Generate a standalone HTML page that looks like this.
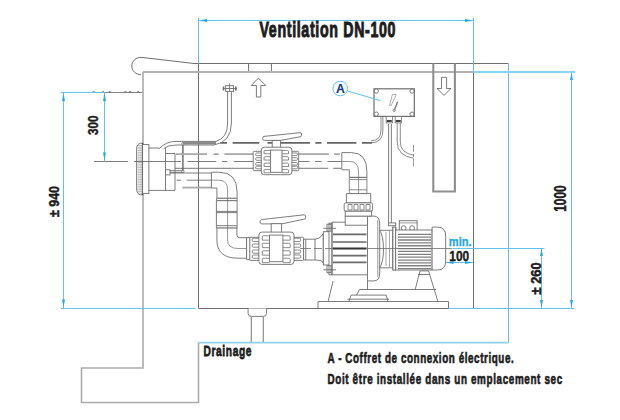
<!DOCTYPE html>
<html><head><meta charset="utf-8">
<style>
html,body{margin:0;padding:0;background:#fff;width:620px;height:420px;overflow:hidden}
svg{display:block}
text{font-family:"Liberation Sans",sans-serif;font-weight:bold;fill:#1c1c1c}
</style></head><body>
<svg width="620" height="420" viewBox="0 0 620 420">
<g fill="none">
<g stroke="#6e6e6e" stroke-width="1">
  <path d="M141.8 57.4C136 57 131.8 61 131.8 66C131.8 71 136 74.7 141 74.7 M141.8 57.4L194 63.5H508.5"/>
  <path d="M248.6 63.5V72 M271.4 63.5V72"/>
  <path d="M198.5 63.5V308.5H473.5V72"/>
</g>
<path d="M104.5 92.5H143 M92.3 92.5l1.2-1.5 1.2 1.5 M102 92.5l1.2-1.5 1.2 1.5 M108.5 92.5l1.2-1.5 1.2 1.5 M124.2 92.5l1.2-1.5 1.2 1.5 M129 92.5l1.2-1.5 1.2 1.5 M137 92.5l1.2-1.5 1.2 1.5" stroke="#666" stroke-width="0.8"/>
<path d="M143 72V368H81.5V402.5H198.5V342.5" stroke="#ababab" stroke-width="1.6"/>
<path d="M143 72H473.5" stroke="#b2b2b2" stroke-width="2"/>
<path d="M433.3 63.5V191.5H454.9V63.5" stroke="#8f8f8f" stroke-width="2.1"/>
<path d="M258.4 78.1L265.7 85.5H260.8V97H256.4V85.5H251.2Z" stroke="#6e6e6e" stroke-width="0.9" fill="#fff"/>
<path d="M444 95.3L451 88.5H446.6V77.3H441.5V88.5H437Z" stroke="#6e6e6e" stroke-width="0.9" fill="#fff"/>
</g>
<g stroke="#6e6e6e" stroke-width="0.9" fill="none">
  <path d="M142.6 143.2H140.8Q136.6 144 136.6 149V189Q136.6 194.2 140.8 194.9H142.6" fill="#fff"/>
  <path d="M137.6 145.5H142 M137.6 147.2H142 M137.6 148.9H142 M137.6 150.6H142 M137.6 152.3H142 M137.6 154H142 M137.6 155.7H142 M137.6 157.4H142 M137.6 159.1H142 M137.6 160.8H142 M137.6 162.5H142 M137.6 164.2H142 M137.6 165.9H142 M137.6 167.6H142 M137.6 169.3H142 M137.6 171H142 M137.6 172.7H142 M137.6 174.4H142 M137.6 176.1H142 M137.6 177.8H142 M137.6 179.5H142 M137.6 181.2H142 M137.6 182.9H142 M137.6 184.6H142 M137.6 186.3H142 M137.6 188H142 M137.6 189.7H142 M137.6 191.4H142 M137.6 193.1H142" stroke="#8a8a8a" stroke-width="0.6"/>
  <path d="M142.6 143.2V194.9" stroke="#333" stroke-width="1.4"/>
  <rect x="142.6" y="144.6" width="6.3" height="48.8" fill="#fff"/>
  <path d="M148.9 148H159.3 M148.9 190.4H175 V153.5H165.5 M165.5 148V190.4"/>
  <path d="M159.3 148.6Q166 141.4 176 141.4H216 M163.6 148.6Q168 145 176 145H214"/>
  <path d="M216 141.4Q227.6 138 227.6 123V91.4 M214 145Q231.4 142 231.4 123V91.4"/>
  <rect x="165.5" y="169.8" width="4.5" height="5.1" fill="#fff"/>
  <path d="M170 170.7H182.9 M170 172.4H182.9"/>
  <path d="M182.9 143.9V171.4" stroke="#888" stroke-width="1.8"/>
  <circle cx="182.9" cy="143.9" r="1.2" fill="#fff"/><circle cx="182.9" cy="171.4" r="1.2" fill="#fff"/>
  <path d="M183 143.1H216" stroke="#8a8a8a" stroke-width="2.6"/>
  <rect x="225.7" y="85.7" width="7.9" height="5.7" fill="#fff"/>
  <path d="M229.6 83.5V91.4 M223 88.5H237"/>
  <path d="M223.5 86.5V90.5 M235.8 86.5V90.5" stroke-width="1.6"/>
</g>

<g fill="none">
  <path d="M175.8 154.1H207 M213.5 154.1H218.6 M224.4 154.1H253.6 M298.6 154.1H328.7 M334 154.1H339.8" stroke="#a8a8a8" stroke-width="1.8"/>
  <path d="M175 168.3H253.6 M298.6 168.3H328.3 M333.2 168.3H341" stroke="#666" stroke-width="0.9"/>
  <path d="M94 161.5H128 M134 161.5H180.9 M187.4 161.5H216.4 M222.2 161.5H227.3 M233.9 161.5H253.6 M298.6 161.5H309.6 M315 161.5H321.6 M327.4 161.5H342" stroke="#6e6e6e" stroke-width="0.9"/>
  <path d="M170 173H211.4" stroke="#6e6e6e" stroke-width="0.9"/>
  <path d="M176.5 180.2H180.9 M186.7 180.2H211.4" stroke="#6e6e6e" stroke-width="0.9"/>
  <path d="M182.3 187.6H211.4" stroke="#a8a8a8" stroke-width="1.8"/>
  <path d="M220.3 142.9H227.1 M232.6 142.9H259.3 M267.5 142.9H309.9 M315.3 142.9H321.5 M327 142.9H356.4 M361.9 142.9H372" stroke="#666" stroke-width="1.7"/>
</g>
<g stroke="#6e6e6e" stroke-width="0.9" fill="#fff">
<path d="M264 136.4L300 132.7Q302.3 132.8 301.5 135.2L301 136.6L280.5 140.4H264.5Q262.4 140.2 262.6 138.2Q262.8 136.6 264 136.4Z"/>
<rect x="272.2" y="140.4" width="8.2" height="7.8"/>
<rect x="253.2" y="151.3" width="10.1" height="19.4" rx="1"/>
<rect x="289.9" y="151.3" width="8.8" height="19.4" rx="1"/>
<rect x="261.3" y="147.2" width="30.6" height="27.5" rx="3"/>
<rect x="270.6" y="150.1" width="11.4" height="22.2"/>
</g>
<g stroke="#6e6e6e" stroke-width="0.8" fill="none">
<path d="M270.6 150.4H265.1Q264.1 150.4 264.1 151.4V153.8H270.6"/>
<path d="M282 150.4H287.5Q288.5 150.4 288.5 151.4V153.8H282"/>
<path d="M270.6 156.65H265.1Q264.1 156.65 264.1 157.65V160.05H270.6"/>
<path d="M282 156.65H287.5Q288.5 156.65 288.5 157.65V160.05H282"/>
<path d="M270.6 163.1H265.1Q264.1 163.1 264.1 164.1V166.5H270.6"/>
<path d="M282 163.1H287.5Q288.5 163.1 288.5 164.1V166.5H282"/>
<path d="M270.6 169.4H265.1Q264.1 169.4 264.1 170.4V172.8H270.6"/>
<path d="M282 169.4H287.5Q288.5 169.4 288.5 170.4V172.8H282"/>
<path d="M261.3 153H256.63Q255.63 153 255.63 154V154.6Q255.63 155.6 256.63 155.6H261.3"/>
<path d="M291.9 153H296.57Q297.57 153 297.57 154V154.6Q297.57 155.6 296.57 155.6H291.9"/>
<path d="M261.3 157.7H256.63Q255.63 157.7 255.63 158.7V159.3Q255.63 160.3 256.63 160.3H261.3"/>
<path d="M291.9 157.7H296.57Q297.57 157.7 297.57 158.7V159.3Q297.57 160.3 296.57 160.3H291.9"/>
<path d="M261.3 162.5H256.63Q255.63 162.5 255.63 163.5V164.1Q255.63 165.1 256.63 165.1H261.3"/>
<path d="M291.9 162.5H296.57Q297.57 162.5 297.57 163.5V164.1Q297.57 165.1 296.57 165.1H291.9"/>
<path d="M261.3 166.2H256.63Q255.63 166.2 255.63 167.2V167.8Q255.63 168.8 256.63 168.8H261.3"/>
<path d="M291.9 166.2H296.57Q297.57 166.2 297.57 167.2V167.8Q297.57 168.8 296.57 168.8H291.9"/>
</g>
<g stroke="#6e6e6e" stroke-width="0.9" fill="#fff">
<path d="M261.5 219.6L304 214.8Q306.3 214.9 305.7 217.2L305.3 218.9L281.6 223.9H261.8Q259.8 223.6 260 221.6Q260.2 219.9 261.5 219.6Z"/>
<rect x="271.2" y="223.7" width="10.4" height="9.4"/>
<rect x="249.4" y="237.3" width="11.5" height="23.1" rx="1"/>
<rect x="292" y="237.3" width="11.6" height="23.1" rx="1"/>
<rect x="258.9" y="232.1" width="35.1" height="32.3" rx="3"/>
<rect x="269.6" y="235.1" width="13.3" height="26.6"/>
</g>
<g stroke="#6e6e6e" stroke-width="0.8" fill="none">
<path d="M269.6 235.75H263.3Q262.3 235.75 262.3 236.75V240.15H269.6"/>
<path d="M282.9 235.75H289.2Q290.2 235.75 290.2 236.75V240.15H282.9"/>
<path d="M269.6 243.25H263.3Q262.3 243.25 262.3 244.25V247.65H269.6"/>
<path d="M282.9 243.25H289.2Q290.2 243.25 290.2 244.25V247.65H282.9"/>
<path d="M269.6 250.75H263.3Q262.3 250.75 262.3 251.75V255.15H269.6"/>
<path d="M282.9 250.75H289.2Q290.2 250.75 290.2 251.75V255.15H282.9"/>
<path d="M269.6 258.25H263.3Q262.3 258.25 262.3 259.25V262.65H269.6"/>
<path d="M282.9 258.25H289.2Q290.2 258.25 290.2 259.25V262.65H282.9"/>
<path d="M258.9 238.25H253.25Q252.25 238.25 252.25 239.25V240.45Q252.25 241.45 253.25 241.45H258.9"/>
<path d="M294 238.25H299.65Q300.65 238.25 300.65 239.25V240.45Q300.65 241.45 299.65 241.45H294"/>
<path d="M258.9 244H253.25Q252.25 244 252.25 245V246.2Q252.25 247.2 253.25 247.2H258.9"/>
<path d="M294 244H299.65Q300.65 244 300.65 245V246.2Q300.65 247.2 299.65 247.2H294"/>
<path d="M258.9 250H253.25Q252.25 250 252.25 251V252.2Q252.25 253.2 253.25 253.2H258.9"/>
<path d="M294 250H299.65Q300.65 250 300.65 251V252.2Q300.65 253.2 299.65 253.2H294"/>
<path d="M258.9 255H253.25Q252.25 255 252.25 256V257.2Q252.25 258.2 253.25 258.2H258.9"/>
<path d="M294 255H299.65Q300.65 255 300.65 256V257.2Q300.65 258.2 299.65 258.2H294"/>
</g>
<g stroke="#6e6e6e" stroke-width="0.9" fill="#fff">
  <path d="M341.8 152.6H351.4Q366.9 152.6 366.9 171.4V177.4H349.3V169.8H341.8Z"/>
  <path d="M341.4 161.5H350Q358.6 161.5 358.6 172V202" fill="none" stroke-width="0.7"/>
  <path d="M349.3 177.4H366.9V193.6H349.3Z M349.3 179.6H366.9 M349.3 189.8H366.9" fill="none" stroke-width="0.8"/>
  <path d="M346.4 193.6H370.7V202.9H346.4Z"/>
</g>
<g stroke="#6e6e6e" stroke-width="0.9" fill="#fff">
  <path d="M211.4 172.2H219Q237.1 172.2 237.1 192V198.3H216.9V188H211.4Z"/>
  <path d="M211.4 180.2H219Q227.6 180.2 227.6 190" fill="none" stroke-width="0.7"/>
  <path d="M216.6 198.3H237.1V200.7H216.6Z"/>
  <path d="M216.4 200.7H237.1V228.1H216.4Z M216.4 211.4H237.1 M216.4 212.6H237.1 M216.4 225.7H237.1" />
  <path d="M216.9 228.1H236.9V235Q236.9 237.7 239.5 237.7H246.6V258.2H238Q216.9 258.2 216.9 240Z"/>
  <path d="M227.6 190V240Q227.6 248.5 238 248.5H249.4" fill="none" stroke-width="0.7"/>
  <path d="M246.6 237.5H249.8V259.6H246.6Z"/>
</g>
<g stroke="#6e6e6e" stroke-width="0.9" fill="#fff">
  <path d="M303.6 239.2H315Q319 239 321.7 235.8L323.3 233.3V263.3L321.7 261Q319 260 315 260H303.6Z"/>
  <path d="M305.8 239.2V260 M315 239.2V260" fill="none"/>
  <rect x="323.3" y="231.7" width="6.7" height="33.3"/>
  <rect x="329" y="223.2" width="3" height="51.6"/>
  <path d="M323.3 228.3H336 M323.3 269.8H336" fill="none"/>
  <rect x="327" y="224.2" width="4" height="7" fill="none"/>
  <rect x="327" y="265.7" width="4" height="7" fill="none"/>
  <path d="M332 222.2H345.2 M332 222.2V274.8 M332 274.8H367.5" fill="none"/>
  <rect x="345.2" y="216" width="22.3" height="9.2"/>
  <path d="M367.5 216.1H374Q379.7 216.1 379.7 224V273Q379.7 280.9 374 280.9H367.5Z"/>
  <path d="M377.8 220V277" fill="none" stroke-width="0.7"/>
  <path d="M379.7 230.3H392.8V267.8H379.7Q383.5 262 383.5 249Q383.5 236 379.7 230.3Z"/>
  <path d="M386 232V266 M389.5 231V267" fill="none" stroke-width="0.6"/>
  <rect x="392.8" y="227.3" width="3.1" height="42.5"/>
</g>
<g stroke="#6a6a6a" stroke-width="1.7" fill="none">
  <path d="M333 234.4H366.5 M333 242H366.5 M333 255.6H366.5 M333 262.3H366.5"/>
  <path d="M333 248.5H366.5" stroke="#333" stroke-width="1.8"/>
  <path d="M300 248.5H311 M314 248.5H322 M325 248.5H333 M366.5 248.5H380" stroke="#6e6e6e" stroke-width="0.8"/>
</g>
<g stroke="#6e6e6e" stroke-width="0.9" fill="#fff">
  <rect x="344.2" y="202.9" width="28.4" height="8.3" rx="1.5"/>
  <rect x="345.2" y="211.2" width="26.4" height="4.9"/>
  <path d="M348 204.5H352V210H348Z M354 204.5H358V210H354Z M360 204.5H364V210H360Z M366 204.5H370V210H366Z" fill="none" stroke-width="0.8"/>
</g>
<g stroke="#6e6e6e" stroke-width="0.9" fill="#fff">
  <path d="M388.6 124V223 M391.4 124V223" fill="none"/>
  <rect x="388.6" y="222.9" width="7.1" height="2.8"/>
  <rect x="399.3" y="220.7" width="17.8" height="10.7"/>
  <path d="M399.3 222.9H417.1" fill="none" stroke-width="0.7"/>
  <circle cx="403.6" cy="228.1" r="2.4"/><circle cx="412.1" cy="228.1" r="2.4"/>
  <rect x="392.9" y="227.1" width="2.8" height="42.9"/>
  <rect x="395.7" y="230" width="36.4" height="40"/>
  <path d="M432.1 227.1H437.5Q445.7 227.1 445.7 236V261Q445.7 270 437.5 270H432.1Z"/>
  <path d="M398 234.3H431 M398 237.16H431 M398 240.02H431 M398 242.88H431 M398 245.74H431 M398 248.6H431 M398 251.46H431 M398 254.32H431 M398 257.18H431 M398 260.04H431 M398 262.9H431 M398 265.76H431 M398 268.62H431" fill="none" stroke="#808080" stroke-width="1.3"/>
  <path d="M380 248.5H452" fill="none" stroke="#6e6e6e" stroke-width="0.8"/>
</g>
<g stroke="#6e6e6e" stroke-width="0.9" fill="none">
  <path d="M333.1 280.9L328.1 301.6 M367.5 280.9V289.5"/>
  <path d="M318 308.5V301.5H448.5V308.5"/>
  <path d="M349 301.6L351 295.1H386.2L388 301.6 M347.5 299.2H389"/>
  <path d="M359.6 289.5H436 M359.6 289.5L356.5 295.1"/>
  <path d="M420 270.9H428.6L437 298.7 M420 270.9L415.2 289.5 M437 298.7L438 301.6"/>
  <path d="M418 274.5H430"/>
</g>
<g stroke="#6e6e6e" stroke-width="1.2" fill="#fff">
  <rect x="374" y="88.8" width="40.3" height="27.6"/>
</g>
<g stroke="#6e6e6e" stroke-width="0.9" fill="#fff">
  <circle cx="376.3" cy="91.1" r="2.1"/><circle cx="412" cy="91.1" r="2.1"/><circle cx="376.3" cy="114.1" r="2.1"/><circle cx="412" cy="114.1" r="2.1"/>
  <path d="M392.4 94.5H396.2L391.2 105.5H389.6Z" fill="none" stroke="#999" stroke-width="0.8"/>
  <path d="M397.6 101.7L394.3 110.2" stroke="#777" stroke-width="1.3"/>
  <circle cx="394.2" cy="110.5" r="1.1" fill="none" stroke="#777" stroke-width="0.8"/>
  <path d="M381 116.4V130Q381 140.7 371 140.7 M382.9 116.4V130Q382.9 142.9 371 142.9" fill="none" stroke-width="0.8"/>
  <rect x="386.2" y="116.4" width="6.2" height="6.5" stroke-width="0.8"/>
  <rect x="395.2" y="116.4" width="6.2" height="6.5" stroke-width="0.8"/>
  <path d="M386.8 121H391.8 M395.8 121H400.8" stroke="#444" stroke-width="2"/>
  <path d="M397.2 123V142Q397.2 156 414 158.3 M400.3 123V142Q400.3 153 414 155.3" fill="none" stroke-width="0.8"/>
  <path d="M413.5 145V167" fill="none" stroke-width="0.7" stroke-dasharray="7 2 3 2"/>
</g>
<g stroke="#6e6e6e" stroke-width="0.9" fill="#fff">
  <path d="M248.1 308.5V313.5Q248.1 316.4 251.3 316.4H263.3Q266.6 316.4 266.6 313.5V308.5"/>
  <path d="M251.3 316.4V342.3 M263.3 316.4V342.3" stroke="#8d8d8d" stroke-width="1.2"/>
</g>
<g fill="none" stroke="#62c2ea" stroke-width="1">
  <path d="M198.5 18V63.5 M198.5 20.5H473.5 M473.5 18V72"/>
  <path d="M508.5 63.5V342.5"/>
  <path d="M508.5 342.6H198.5" stroke="#8ed0ee" stroke-width="1.6"/>
  <path d="M571.5 72V308.5 M448.5 308.5H574 M452.4 248.5H544.5 M541.5 248.5V308.5"/>
  <path d="M446 262.5H473 M61 92.5H104.5 M63.5 92.5V308.5 M104.5 92.5V161.5 M61 308.5H195.5"/>
  <circle cx="340.2" cy="88.5" r="7.3"/>
  <path d="M347.4 91L380.5 100.6"/>
</g>
<path d="M473.5 72H575" stroke="#8fd3f0" stroke-width="2"/>
<g fill="#29a9e0" stroke="none">
  <path d="M199 20.5L207 19V22Z M473 20.5L465 19V22Z"/>
  <path d="M571.5 72.5L570 80H573Z M571.5 307.5L570 300H573Z"/>
  <path d="M541.5 248.5L540 256H543Z M541.5 307.5L540 300H543Z"/>
  <path d="M63.5 93L62 101H65Z M63.5 307.5L62 299.5H65Z"/>
  <path d="M104.5 93L103 101H106Z M104.5 160.5L103 152.5H106Z"/>
  <path d="M446 262.4L453.5 260.9V263.9Z M473 262.4L465 260.9V263.9Z"/>
</g>
<g style="stroke:#1c1c1c;stroke-width:0.45">
<text transform="translate(259.5 36.8) scale(0.66 1)" font-size="21.5" textLength="206" lengthAdjust="spacing" style="stroke-width:1">Ventilation DN-100</text>
<text transform="translate(203.5 356.3) scale(0.66 1)" font-size="15.5" textLength="72.7" lengthAdjust="spacing" style="stroke-width:0.75">Drainage</text>
<text transform="translate(327.5 363) scale(0.65 1)" font-size="15.2" textLength="286.5" lengthAdjust="spacing" style="stroke-width:0.65">A - Coffret de connexion électrique.</text>
<text transform="translate(327.5 384) scale(0.65 1)" font-size="15.2" textLength="361" lengthAdjust="spacing" style="stroke-width:0.65">Doit être installée dans un emplacement sec</text>
<text x="449.3" y="261.2" font-size="15" textLength="19.8" lengthAdjust="spacingAndGlyphs">100</text>
<text transform="translate(98.3 135) rotate(-90)" font-size="15.3" textLength="19.5" lengthAdjust="spacingAndGlyphs">300</text>
<text transform="translate(59.3 217) rotate(-90)" font-size="15" textLength="31" lengthAdjust="spacingAndGlyphs">± 940</text>
<text transform="translate(566 211.8) rotate(-90)" font-size="16.5" textLength="26.5" lengthAdjust="spacingAndGlyphs">1000</text>
<text transform="translate(540.6 294.4) rotate(-90)" font-size="14.5" textLength="32" lengthAdjust="spacingAndGlyphs">± 260</text>
</g>
<text x="448.8" y="245.8" font-size="12" textLength="22.8" lengthAdjust="spacingAndGlyphs" style="fill:#2aa8e0;stroke:#2aa8e0;stroke-width:0.3">min.</text>
<text x="335.9" y="92.6" font-size="13" textLength="8.8" lengthAdjust="spacingAndGlyphs" style="fill:#1a3a8c;stroke:#1a3a8c;stroke-width:0.15">A</text>
</svg>
</body></html>
